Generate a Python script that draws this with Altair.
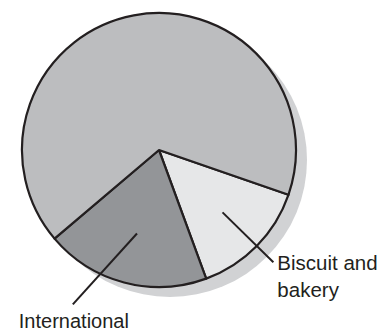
import math
import altair as alt
import pandas as pd

# ---- data ----
categories = ["Biscuit and bakery", "International", "Other"]
shares = [14.1, 19.4, 66.5]
labels = ["Biscuit and\nbakery", "International", ""]
colors = ["#e6e7e8", "#939598", "#bcbdbf"]

# ---- layout ----
W, H = 369, 323
CX, CY = 151, 142          # pie centre inside the plot area
R = 137
START = math.radians(109.1)
SHADOW_DX, SHADOW_DY = 11, 10
INK = "#231f20"
# leader: inner radius fraction, outer radius fraction, outer angle offset (deg)
leader_in = [0.65, 0.63, None]
leader_out = [(1.17, 0.0), (1.29, 14.4), None]
# text offset from leader outer end, alignment
text_off = [(4, 8, "left"), (1, 24, "center"), None]

df = pd.DataFrame({"category": categories, "share": shares, "order": list(range(len(shares)))})

total = sum(shares)
rows = []
acc = 0.0
for i, (c, s) in enumerate(zip(categories, shares)):
    a0 = START + 2 * math.pi * acc / total
    a1 = START + 2 * math.pi * (acc + s) / total
    acc += s
    if leader_in[i] is None:
        continue
    mid = (a0 + a1) / 2
    ri = leader_in[i] * R
    ro, off = leader_out[i]
    ro *= R
    ao = mid + math.radians(off)
    x1, y1 = ri * math.sin(mid), -ri * math.cos(mid)
    x2, y2 = ro * math.sin(ao), -ro * math.cos(ao)
    dx, dy, al = text_off[i]
    rows.append({"category": c, "label": labels[i], "x1": x1, "y1": y1, "x2": x2, "y2": y2,
                 "tx": x2 + dx, "ty": y2 + dy, "align": al})
lead = pd.DataFrame(rows)

xs = alt.Scale(domain=[-CX, W - CX], nice=False, zero=False)
ys = alt.Scale(domain=[-CY, H - CY], nice=False, zero=False, reverse=True)

shadow = alt.Chart(pd.DataFrame({"a": [0]})).mark_arc(
    outerRadius=R, theta=0, theta2=2 * math.pi, color="#d1d2d4"
).encode(x=alt.value(CX + SHADOW_DX), y=alt.value(CY + SHADOW_DY))

pie = alt.Chart(df).mark_arc(outerRadius=R, stroke=INK, strokeWidth=2.2, strokeJoin="round").encode(
    theta=alt.Theta("share:Q", stack=True, scale=alt.Scale(range=[START, START + 2 * math.pi])),
    color=alt.Color("category:N", scale=alt.Scale(domain=categories, range=colors), legend=None),
    order=alt.Order("order:Q"),
    x=alt.value(CX),
    y=alt.value(CY),
)

rules = alt.Chart(lead).mark_rule(color=INK, strokeWidth=2).encode(
    x=alt.X("x1:Q", scale=xs, axis=None),
    y=alt.Y("y1:Q", scale=ys, axis=None),
    x2="x2:Q",
    y2="y2:Q",
)

txt_left = alt.Chart(lead[lead["align"] == "left"]).mark_text(
    align="left", baseline="alphabetic", font="Liberation Sans", fontSize=20.5,
    lineBreak="\n", lineHeight=27, color=INK
).encode(
    x=alt.X("tx:Q", scale=xs, axis=None),
    y=alt.Y("ty:Q", scale=ys, axis=None),
    text="label:N",
)

txt_center = alt.Chart(lead[lead["align"] == "center"]).mark_text(
    align="center", baseline="alphabetic", font="Liberation Sans", fontSize=20, color=INK
).encode(
    x=alt.X("tx:Q", scale=xs, axis=None),
    y=alt.Y("ty:Q", scale=ys, axis=None),
    text="label:N",
)

chart = alt.layer(shadow, pie, rules, txt_left, txt_center).properties(
    width=W, height=H, padding=0, autosize=alt.AutoSizeParams(type="none"),
    background="white"
).configure_view(stroke=None)

chart.save("out.html", embed_options={"renderer": "svg", "actions": False})
